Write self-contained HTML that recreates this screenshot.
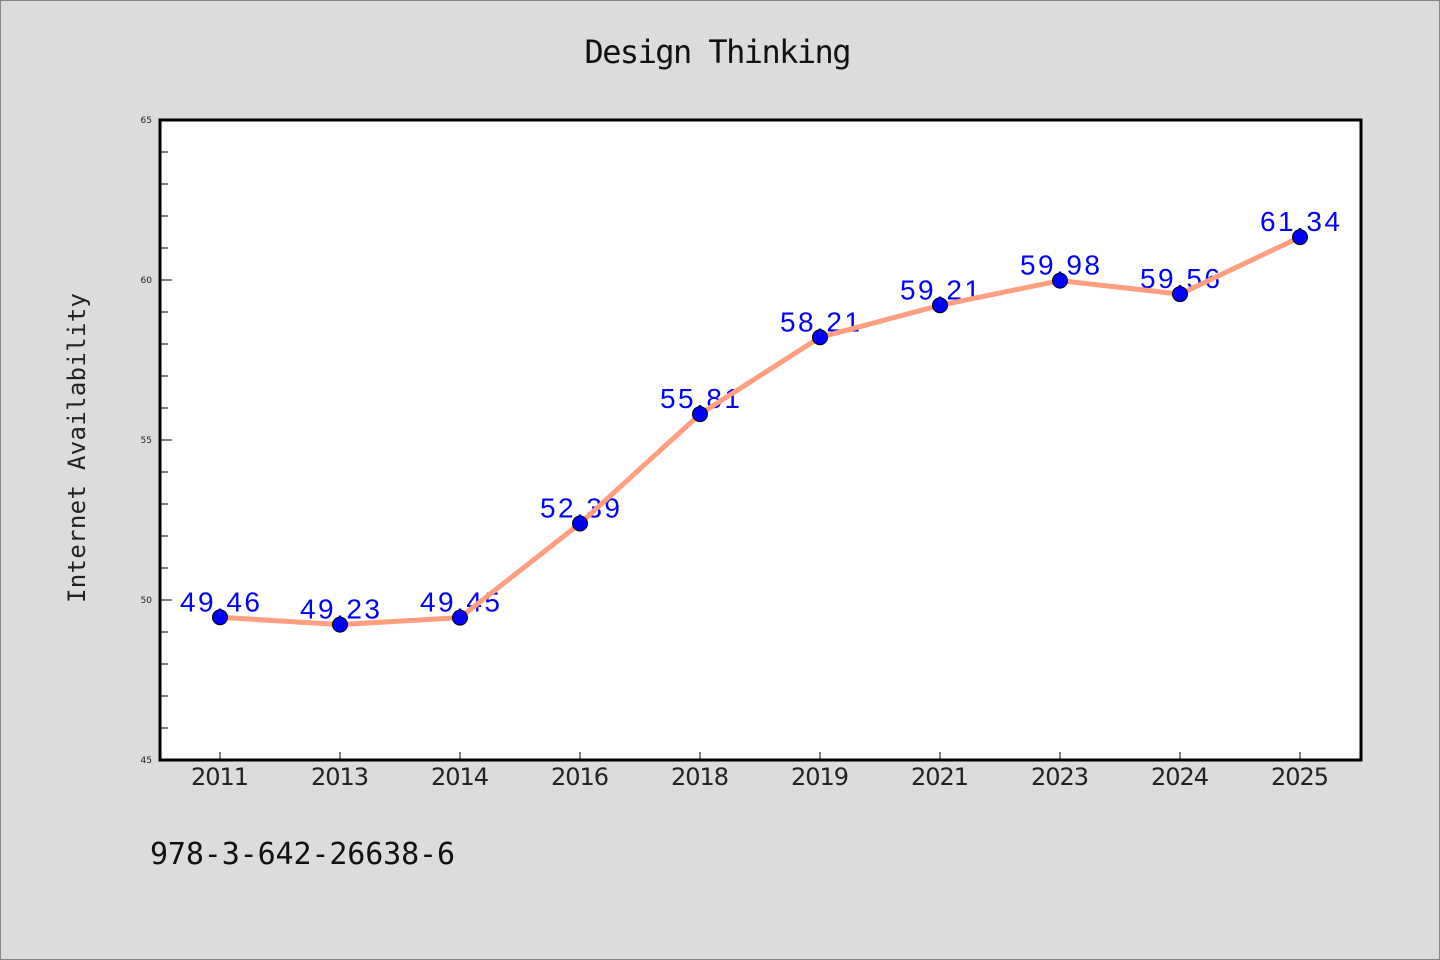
<!DOCTYPE html>
<html><head><meta charset="utf-8"><style>
html,body{margin:0;padding:0;background:#dcdcdc;}
svg{display:block;}
</style></head><body>
<svg width="1440" height="960" xmlns="http://www.w3.org/2000/svg">
<rect x="0.5" y="0.5" width="1439" height="959" fill="#dcdcdc" stroke="#888"/>
<text x="718" y="63" text-anchor="middle" font-family="'WenQuanYi Zen Hei','DejaVu Sans Mono',monospace" font-size="32" textLength="267" fill="#111">Design Thinking</text>
<text transform="translate(85,448) rotate(-90)" text-anchor="middle" font-family="'WenQuanYi Zen Hei','DejaVu Sans Mono',monospace" font-size="24" textLength="310" fill="#222">Internet Availability</text>
<text x="150" y="864" font-family="'WenQuanYi Zen Hei','DejaVu Sans Mono',monospace" font-size="30" textLength="305" fill="#111">978-3-642-26638-6</text>
<rect x="160" y="120" width="1201" height="640" fill="#fff"/>
<g id="yticks"></g>
<g id="xticks"></g>
<g id="labels"></g>
<polyline id="line" fill="none" stroke="#ff9f7f" stroke-width="5" stroke-linejoin="round"/>
<g id="points"></g>
<rect x="160" y="120" width="1201" height="640" fill="none" stroke="#000" stroke-width="3"/>
</svg>
<script>
const categories = ["2011","2013","2014","2016","2018","2019","2021","2023","2024","2025"];
const values = [49.46,49.23,49.45,52.39,55.81,58.21,59.21,59.98,59.56,61.34];
const yTickLabels = [45,50,55,60,65];
(function(){
const NS="http://www.w3.org/2000/svg";
const yMin=45,yMax=65,plotTop=120,plotBot=760;
function y(v){return plotBot-(v-yMin)/(yMax-yMin)*(plotBot-plotTop);}
function x(i){return 220+i*120;}
function mk(t,a,p){const e=document.createElementNS(NS,t);for(const k in a)e.setAttribute(k,a[k]);p.appendChild(e);return e;}
const yt=document.getElementById('yticks');
for(let v=yMin;v<=yMax;v++){
  const l=mk('line',{x1:160,x2:(v%5===0)?172:168,y1:y(v),y2:y(v),stroke:'#000','stroke-width':1},yt);
  
  
}
yTickLabels.forEach(v=>{
  const t=mk('text',{x:152,y:y(v)+3,'text-anchor':'end','font-family':'DejaVu Sans, sans-serif','font-size':9,fill:'#222'},yt);
  t.textContent=v;
  
  
});
const xt=document.getElementById('xticks');
categories.forEach((c,i)=>{
  const l=mk('line',{x1:x(i),x2:x(i),y1:760,y2:752,stroke:'#000','stroke-width':1},xt);
  
  
  const t=mk('text',{x:x(i),y:785,'text-anchor':'middle','font-family':"'WenQuanYi Zen Hei','DejaVu Sans',sans-serif",'font-size':24,fill:'#222',textLength:58},xt);
  t.textContent=c;
  
  
});
const lb=document.getElementById('labels');
values.forEach((v,i)=>{
  const t=mk('text',{x:x(i),y:y(v)-6,'text-anchor':'middle','font-family':"'Liberation Sans',sans-serif",'font-size':28,fill:'#0000ff',textLength:80},lb);
  t.textContent=v.toFixed(2);
  
  
});
document.getElementById('line').setAttribute('points',values.map((v,i)=>x(i)+','+y(v)).join(' '));
const pg=document.getElementById('points');
values.forEach((v,i)=>{
  const c=mk('circle',{cx:x(i),cy:y(v),r:7.5,fill:'#0000ff',stroke:'#000','stroke-width':1},pg);
  
  
});
})();
</script>
</body></html>
